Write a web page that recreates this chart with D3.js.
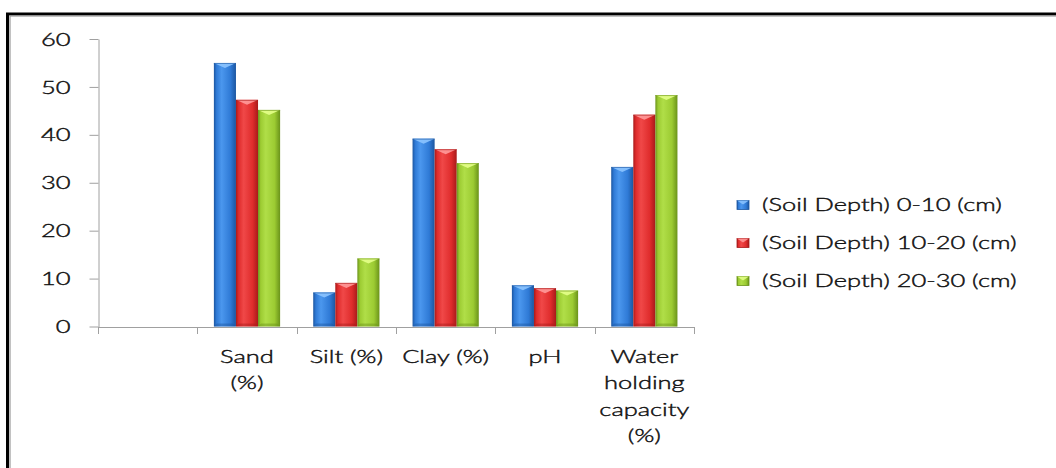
<!DOCTYPE html>
<html>
<head>
<meta charset="utf-8">
<script src="https://cdn.jsdelivr.net/npm/d3@7"></script>
<style>
  html, body { margin: 0; padding: 0; background: #fff; }
  svg { display: block; }
  text { font-family: Lato, "Open Sans", sans-serif; font-weight: 300; fill: #111; stroke: #111; stroke-width: 0.4px; }
</style>
</head>
<body>
<svg id="chart" width="1056" height="468"></svg>
<script>
// Soil properties by sampling depth
const categories = ["", "Sand (%)", "Silt (%)", "Clay (%)", "pH", "Water holding capacity (%)"];
const categoryLines = [[], ["Sand", "(%)"], ["Silt (%)"], ["Clay (%)"], ["pH"], ["Water", "holding", "capacity", "(%)"]];
const seriesNames = ["(Soil Depth) 0-10 (cm)", "(Soil Depth) 10-20 (cm)", "(Soil Depth) 20-30 (cm)"];
const depth0to10  = [null, 55.0, 7.1, 39.2, 8.6, 33.3];
const depth10to20 = [null, 47.3, 9.1, 37.0, 8.0, 44.2];
const depth20to30 = [null, 45.2, 14.2, 34.1, 7.5, 48.3];
const yTicks = [0, 10, 20, 30, 40, 50, 60];

const seriesValues = [depth0to10, depth10to20, depth20to30];
const palette = [
  { dark: "#1c56a0", mid: "#2f7ad6", light: "#4b97ee", top: "#8cc4ff" },
  { dark: "#a81a1a", mid: "#df2c2c", light: "#f04848", top: "#ff9a9a" },
  { dark: "#6a931a", mid: "#9ccb32", light: "#b0de48", top: "#e4ff8a" }
];
const textScaleX = 1.5;
const fontSize = 17;

const svg = d3.select("#chart");
const defs = svg.append("defs");

// horizontal shading for the bevelled bars
palette.forEach((c, i) => {
  const g = defs.append("linearGradient").attr("id", "bar" + i)
    .attr("x1", "0%").attr("x2", "100%").attr("y1", "0%").attr("y2", "0%");
  g.append("stop").attr("offset", "0%").attr("stop-color", c.dark);
  g.append("stop").attr("offset", "12%").attr("stop-color", c.mid);
  g.append("stop").attr("offset", "35%").attr("stop-color", c.light);
  g.append("stop").attr("offset", "75%").attr("stop-color", c.mid);
  g.append("stop").attr("offset", "100%").attr("stop-color", c.dark);
});

// frame
svg.append("rect").attr("x", 7.5).attr("y", 14).attr("width", 1200).attr("height", 600)
  .attr("fill", "none").attr("stroke", "#000").attr("stroke-width", 3);
svg.append("rect").attr("x", 10).attr("y", 16).attr("width", 1200).attr("height", 600)
  .attr("fill", "none").attr("stroke", "#9a9a9a").attr("stroke-width", 1.2);

const x0 = d3.scaleBand().domain(categories).range([98, 694]).paddingInner(0).paddingOuter(0);
const x1 = d3.scaleBand().domain(seriesNames).range([0, x0.bandwidth()]).paddingInner(0).paddingOuter(0.75);
const y = d3.scaleLinear().domain([0, 60]).range([326.5, 39]);

// y axis
const yAxis = svg.append("g").attr("transform", "translate(98.5,0)")
  .call(d3.axisLeft(y).tickValues(yTicks).tickSize(9).tickSizeOuter(0));
yAxis.select(".domain").attr("stroke", "#a0a0a0");
yAxis.selectAll(".tick line").attr("stroke", "#a0a0a0");
yAxis.selectAll(".tick text")
  .attr("x", 0).attr("dy", "0.36em")
  .attr("transform", `translate(-28,0) scale(${textScaleX},1)`)
  .style("font-size", fontSize + "px").style("font-family", "Lato").style("font-weight", 300)
  .attr("fill", "#111");

// x axis
const xAxis = svg.append("g").attr("transform", `translate(0,${y(0) + 0.5})`)
  .call(d3.axisBottom(x0).tickSize(0).tickSizeOuter(0).tickFormat(""));
xAxis.select(".domain").attr("stroke", "#a0a0a0");
xAxis.selectAll(".tick").remove();
const boundaries = categories.map(c => x0(c)).concat([x0(categories[categories.length - 1]) + x0.bandwidth()]);
xAxis.selectAll("line.sep").data(boundaries).join("line").attr("class", "sep")
  .attr("x1", d => Math.round(d) + 0.5).attr("x2", d => Math.round(d) + 0.5)
  .attr("y1", 0).attr("y2", 7).attr("stroke", "#a0a0a0");

// category labels
categories.forEach((c, i) => {
  const cx = x0(c) + x0.bandwidth() / 2;
  categoryLines[i].forEach((line, j) => {
    svg.append("text")
      .attr("transform", `translate(${cx},${363 + j * 26.3}) scale(${textScaleX},1)`)
      .attr("text-anchor", "middle").style("font-size", fontSize + "px")
      .text(line);
  });
});

// bars
const bars = svg.append("g");
seriesValues.forEach((vals, s) => {
  const c = palette[s];
  vals.forEach((v, i) => {
    if (v == null) return;
    const bx = x0(categories[i]) + x1(seriesNames[s]);
    const bw = x1.bandwidth();
    const top = y(v), bottom = y(0);
    const g = bars.append("g");
    g.append("rect").attr("x", bx).attr("y", top).attr("width", bw).attr("height", bottom - top)
      .attr("fill", `url(#bar${s})`);
    // bevelled top facet
    g.append("path")
      .attr("d", `M${bx},${top} L${bx + bw},${top} L${bx + bw / 2},${top + 5} Z`)
      .attr("fill", c.top).attr("opacity", 0.9);
    g.append("line").attr("x1", bx).attr("x2", bx + bw).attr("y1", top + 0.5).attr("y2", top + 0.5)
      .attr("stroke", c.dark).attr("stroke-width", 1).attr("opacity", 0.6);
    // darker bottom edge
    g.append("path")
      .attr("d", `M${bx},${bottom} L${bx + bw},${bottom} L${bx + bw - 3},${bottom - 3} L${bx + 3},${bottom - 3} Z`)
      .attr("fill", c.dark).attr("opacity", 0.45);
  });
});

// legend
const legend = svg.append("g");
seriesNames.forEach((name, s) => {
  const cy = 205 + s * 38;
  const c = palette[s];
  legend.append("rect").attr("x", 737).attr("y", cy - 4.5).attr("width", 12).attr("height", 9)
    .attr("fill", `url(#bar${s})`).attr("stroke", c.dark).attr("stroke-width", 0.8);
  legend.append("path")
    .attr("d", `M${737},${cy - 4.5} L${749},${cy - 4.5} L${743},${cy - 0.5} Z`)
    .attr("fill", c.top).attr("opacity", 0.85);
  legend.append("text")
    .attr("transform", `translate(762,${cy + 6}) scale(${textScaleX},1)`)
    .style("font-size", fontSize + "px").text(name);
});
</script>
</body>
</html>
